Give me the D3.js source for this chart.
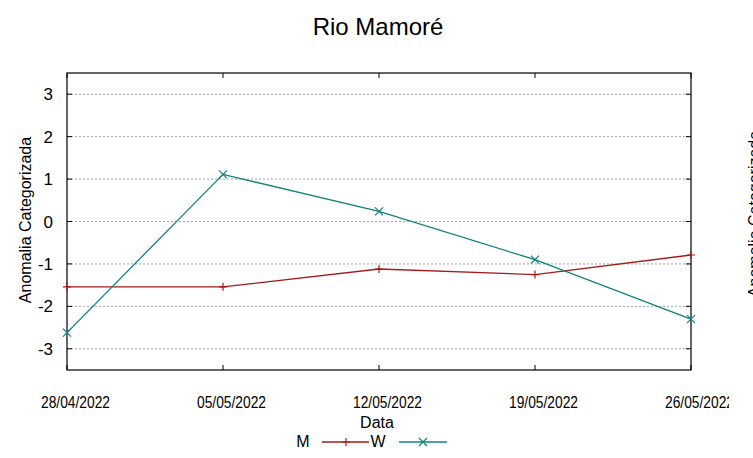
<!DOCTYPE html>
<html><head><meta charset="utf-8">
<script src="https://cdn.jsdelivr.net/npm/d3@7"></script>
<style>body{margin:0;background:#fff}svg{display:block;font-family:"Liberation Sans",Arial,sans-serif}</style>
</head><body>
<svg id="c" width="753" height="458"></svg>
<script>
const dates = ["28/04/2022","05/05/2022","12/05/2022","19/05/2022","26/05/2022"];
const seriesM = [-1.54,-1.54,-1.12,-1.25,-0.79];
const seriesW = [-2.62,1.11,0.24,-0.90,-2.30];
const yTicks = [-3,-2,-1,0,1,2,3];

const svg = d3.select("#c");
const L=67,R=691,T=73,B=370;
const x = d3.scalePoint().domain(dates).range([L,R]);
const y = d3.scaleLinear().domain([-3.5,3.5]).range([B,T]);

// grid
svg.append("g").selectAll("line").data(yTicks).join("line")
  .attr("x1",L).attr("x2",R).attr("y1",d=>y(d)).attr("y2",d=>y(d))
  .attr("stroke","#a0a0a0").attr("stroke-width",1).attr("stroke-dasharray","2,2");

// left/right ticks
const tl=5;
svg.append("g").selectAll("line").data(yTicks).join("line")
  .attr("x1",L).attr("x2",L+tl).attr("y1",d=>y(d)).attr("y2",d=>y(d)).attr("stroke","#000");
svg.append("g").selectAll("line").data(yTicks).join("line")
  .attr("x1",R-tl).attr("x2",R).attr("y1",d=>y(d)).attr("y2",d=>y(d)).attr("stroke","#000");
// bottom/top ticks
svg.append("g").selectAll("line").data(dates).join("line")
  .attr("x1",d=>x(d)).attr("x2",d=>x(d)).attr("y1",B).attr("y2",B-tl).attr("stroke","#000");
svg.append("g").selectAll("line").data(dates).join("line")
  .attr("x1",d=>x(d)).attr("x2",d=>x(d)).attr("y1",T).attr("y2",T+tl).attr("stroke","#000");

// frame
svg.append("rect").attr("x",L).attr("y",T).attr("width",R-L).attr("height",B-T)
  .attr("fill","none").attr("stroke","#000").attr("stroke-width",1.2);

// y tick labels
svg.append("g").selectAll("text").data(yTicks).join("text")
  .attr("x",53).attr("y",d=>y(d)+6).attr("text-anchor","end")
  .attr("font-size",17).attr("fill","#000").text(d=>d);

// x tick labels
svg.append("clipPath").attr("id","clipx").append("rect").attr("x",0).attr("y",380).attr("width",729).attr("height",40);
svg.append("g").attr("clip-path","url(#clipx)").selectAll("text").data(dates).join("text")
  .attr("x",d=>x(d)+8.5).attr("y",407.5).attr("text-anchor","middle")
  .attr("font-size",17).attr("textLength",69).attr("lengthAdjust","spacingAndGlyphs")
  .attr("fill","#000").text(d=>d);

// titles
svg.append("text").attr("x",378).attr("y",35).attr("text-anchor","middle").attr("font-size",24).text("Rio Mamoré");
svg.append("text").attr("x",377).attr("y",428).attr("text-anchor","middle").attr("font-size",16).text("Data");
svg.append("text").attr("transform","translate(31,220) rotate(-90)").attr("text-anchor","middle").attr("font-size",16).text("Anomalia Categorizada");
svg.append("text").attr("transform","translate(760,214) rotate(-90)").attr("text-anchor","middle").attr("font-size",16).text("Anomalia Categorizada");

const cM="#a81a1a", cW="#118080";
const line = d3.line().x((d,i)=>x(dates[i])).y(d=>y(d));
function plus(g,px,py,c){g.append("path").attr("d",`M${px-4},${py}H${px+4}M${px},${py-4}V${py+4}`).attr("stroke",c).attr("stroke-width",1.2);}
function cross(g,px,py,c){g.append("path").attr("d",`M${px-4},${py-4}L${px+4},${py+4}M${px-4},${py+4}L${px+4},${py-4}`).attr("stroke",c).attr("stroke-width",1.2);}

const gp = svg.append("g");
gp.append("path").datum(seriesM).attr("d",line).attr("fill","none").attr("stroke",cM).attr("stroke-width",1.3);
seriesM.forEach((v,i)=>plus(gp,x(dates[i]),y(v),cM));
gp.append("path").datum(seriesW).attr("d",line).attr("fill","none").attr("stroke",cW).attr("stroke-width",1.3);
seriesW.forEach((v,i)=>cross(gp,x(dates[i]),y(v),cW));

// legend
svg.append("text").attr("x",303).attr("y",447).attr("text-anchor","middle").attr("font-size",16).text("M");
svg.append("line").attr("x1",322).attr("x2",369).attr("y1",442).attr("y2",442).attr("stroke",cM).attr("stroke-width",1.3);
plus(svg,346,442,cM);
svg.append("text").attr("x",378).attr("y",447).attr("text-anchor","middle").attr("font-size",16).text("W");
svg.append("line").attr("x1",399).attr("x2",447).attr("y1",442).attr("y2",442).attr("stroke",cW).attr("stroke-width",1.3);
cross(svg,423,442,cW);
</script>
</body></html>
